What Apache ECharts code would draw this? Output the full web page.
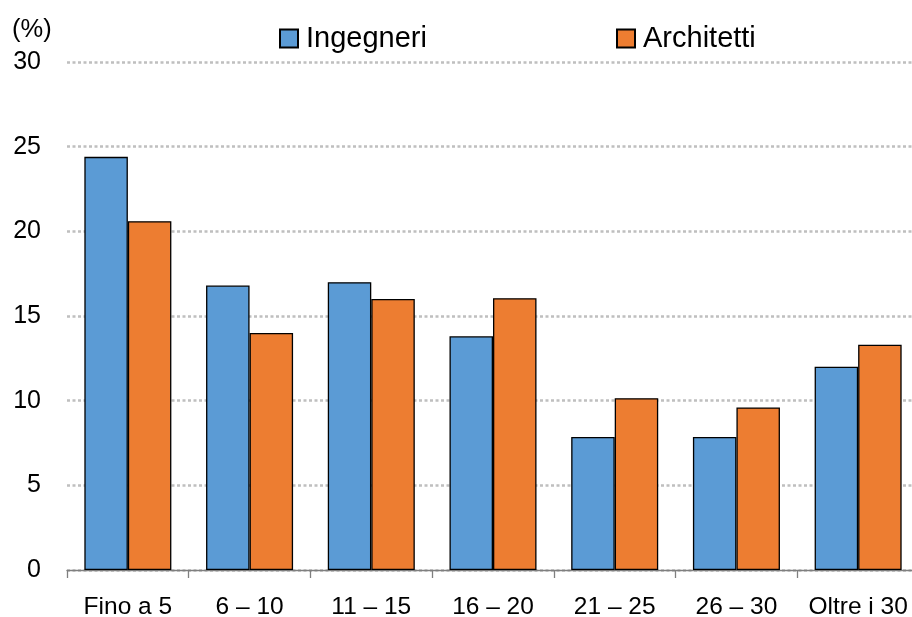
<!DOCTYPE html>
<html>
<head>
<meta charset="utf-8">
<script src="https://cdn.jsdelivr.net/npm/echarts@6/dist/echarts.min.js"></script>
<style>html,body{margin:0;padding:0;background:#fff}#c{width:912px;height:617px}</style>
</head>
<body>
<div id="c"></div>
<script>
const categories = ['Fino a 5', '6 – 10', '11 – 15', '16 – 20', '21 – 25', '26 – 30', 'Oltre i 30'];
const ingegneri = [24.4, 16.8, 17.0, 13.8, 7.85, 7.85, 12.0];
const architetti = [20.6, 14.0, 16.0, 16.05, 10.15, 9.6, 13.3];
const yTicks = [0, 5, 10, 15, 20, 25, 30];

const FONT = 'Liberation Sans';
const chart = echarts.init(document.getElementById('c'));
const legendCommon = {
  top: 24, padding: 0, itemWidth: 18, itemHeight: 18, icon: 'rect', itemGap: 10,
  textStyle: { fontFamily: FONT, fontSize: 29, color: '#000', padding: [0, 0, 0, 3] }
};
chart.setOption({
  animation: false,
  textStyle: { fontFamily: FONT },
  title: { text: '(%)', left: 12, top: 17, padding: 0, textStyle: { fontFamily: FONT, fontSize: 25.5, fontWeight: 'normal', color: '#000' } },
  legend: [
    Object.assign({ left: 279, data: ['Ingegneri'] }, legendCommon),
    Object.assign({ left: 616, data: ['Architetti'] }, legendCommon)
  ],
  grid: { left: 67, width: 852, top: 62, bottom: 47, containLabel: false, outerBoundsMode: 'none' },
  xAxis: {
    type: 'category', data: categories,
    axisLine: { lineStyle: { color: '#7f7f7f', width: 1.3 } },
    axisTick: { show: true, length: 8, lineStyle: { color: '#7f7f7f', width: 1.3 } },
    axisLabel: { fontFamily: FONT, fontSize: 24.5, color: '#000', margin: 25, interval: 0, hideOverlap: false }
  },
  yAxis: {
    type: 'value', min: 0, max: 30, interval: 5,
    axisLine: { show: false }, axisTick: { show: false },
    axisLabel: { fontFamily: FONT, fontSize: 25, color: '#000', margin: 26,
      formatter: v => yTicks.includes(v) ? String(v) : '' },
    splitLine: { lineStyle: { color: '#bfbfbf', width: 2.5, type: [3, 2.5] } }
  },
  series: [
    { name: 'Ingegneri', type: 'bar', data: ingegneri, barGap: '0%', barCategoryGap: '28.5%',
      itemStyle: { color: '#5b9bd5', borderColor: '#000', borderWidth: 1.3 } },
    { name: 'Architetti', type: 'bar', data: architetti, barGap: '0%', barCategoryGap: '28.5%',
      itemStyle: { color: '#ed7d31', borderColor: '#000', borderWidth: 1.3 } }
  ]
});
</script>
</body>
</html>
